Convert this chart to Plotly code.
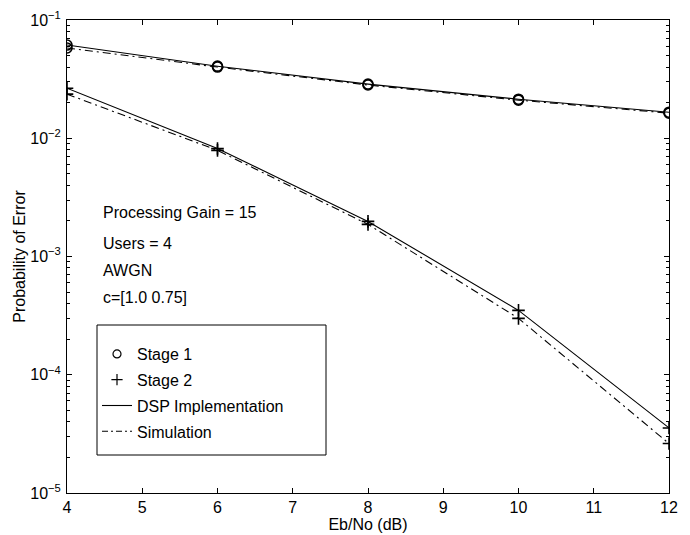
import plotly.graph_objects as go

ebno = [4, 6, 8, 10, 12]

stage1_dsp = [0.0614, 0.0407, 0.0287, 0.0214, 0.0166]
stage1_sim = [0.0580, 0.0400, 0.0282, 0.0210, 0.0163]
stage2_dsp = [0.0265, 0.0082, 0.00198, 0.00035, 0.0000355]
stage2_sim = [0.0236, 0.0079, 0.00187, 0.00030, 0.0000262]

ytick_vals = [1e-5, 1e-4, 1e-3, 1e-2, 1e-1]
ytick_text = ["10<sup>−5</sup>", "10<sup>−4</sup>", "10<sup>−3</sup>", "10<sup>−2</sup>", "10<sup>−1</sup>"]
yminor_vals = [m * d for d in [1e-5, 1e-4, 1e-3, 1e-2] for m in range(2, 10)]
xtick_vals = [4, 5, 6, 7, 8, 9, 10, 11, 12]

notes = ["Processing Gain = 15", "Users = 4", "AWGN", "c=[1.0 0.75]"]
legend_names = ["Stage 1", "Stage 2", "DSP Implementation", "Simulation"]

FONT = "Liberation Sans, Arial, Helvetica, sans-serif"
FS = 16
BLACK = "black"
DASHDOT = "8px,4px,2px,4px"

fig = go.Figure()

circle = dict(symbol="circle-open", size=10, color=BLACK, line=dict(width=1.6, color=BLACK))
plus = dict(symbol="cross-thin-open", size=9, color=BLACK, line=dict(width=1.6, color=BLACK))

fig.add_trace(go.Scatter(x=ebno, y=stage1_dsp, mode="lines+markers", line=dict(color=BLACK, width=1.1),
                         marker=circle, showlegend=False))
fig.add_trace(go.Scatter(x=ebno, y=stage1_sim, mode="lines+markers", line=dict(color=BLACK, width=1.1, dash=DASHDOT),
                         marker=circle, showlegend=False))
fig.add_trace(go.Scatter(x=ebno, y=stage2_dsp, mode="lines+markers", line=dict(color=BLACK, width=1.1),
                         marker=plus, showlegend=False))
fig.add_trace(go.Scatter(x=ebno, y=stage2_sim, mode="lines+markers", line=dict(color=BLACK, width=1.1, dash=DASHDOT),
                         marker=plus, showlegend=False))

# legend entries
fig.add_trace(go.Scatter(x=[None], y=[None], mode="markers", marker=dict(symbol="circle-open", size=8, color=BLACK, line=dict(width=1.2)),
                         name=legend_names[0], legendgroup="a"))
fig.add_trace(go.Scatter(x=[None], y=[None], mode="markers", marker=dict(symbol="cross-thin-open", size=8, color=BLACK, line=dict(width=1.2)),
                         name=legend_names[1], legendgroup="b"))
fig.add_trace(go.Scatter(x=[None], y=[None], mode="lines", line=dict(color=BLACK, width=1.1),
                         name=legend_names[2], legendgroup="c"))
fig.add_trace(go.Scatter(x=[None], y=[None], mode="lines", line=dict(color=BLACK, width=1.1, dash="6px,3px,2px,3px"),
                         name=legend_names[3], legendgroup="d"))

axis_common = dict(showline=True, linecolor=BLACK, linewidth=1, mirror="ticks", ticks="inside",
                   ticklen=5, tickcolor=BLACK, showgrid=False, zeroline=False, automargin=False,
                   tickfont=dict(family=FONT, size=FS, color=BLACK))

fig.update_xaxes(range=[4, 12], tickvals=xtick_vals, ticklabelstandoff=0, **axis_common,
                 title=dict(text="Eb/No (dB)", font=dict(family=FONT, size=FS, color=BLACK), standoff=2))
fig.update_yaxes(type="log", range=[-5, -1], tickvals=ytick_vals, ticktext=ytick_text, ticklabelstandoff=2, **axis_common,
                 minor=dict(ticks="inside", ticklen=3, tickcolor=BLACK, showgrid=False, tickvals=yminor_vals),
                 title=dict(text="Probability of Error", font=dict(family=FONT, size=FS, color=BLACK), standoff=0))

# notes
note_y = [213, 243, 270, 297]
for t, py in zip(notes, note_y):
    fig.add_annotation(text=t, xref="paper", yref="paper", x=(101 - 67) / 602, y=(493 - py) / 473,
                       xanchor="left", yanchor="middle", showarrow=False,
                       font=dict(family=FONT, size=FS, color=BLACK))

# legend box
fig.add_shape(type="rect", xref="paper", yref="paper",
              x0=(97 - 67) / 602, x1=(326 - 67) / 602, y0=(493 - 455) / 473, y1=(493 - 325) / 473,
              line=dict(color=BLACK, width=1), fillcolor="white", layer="above")

fig.update_layout(
    width=690, height=535,
    margin=dict(l=67, r=21, t=20, b=42),
    paper_bgcolor="white", plot_bgcolor="white",
    font=dict(family=FONT, size=FS, color=BLACK),
    legend=dict(x=(97 - 67) / 602, y=(493 - 337) / 473, xanchor="left", yanchor="top",
                bgcolor="rgba(0,0,0,0)", borderwidth=0, tracegroupgap=2,
                font=dict(family=FONT, size=FS, color=BLACK), itemwidth=30),
)

fig.write_html("out.html")
